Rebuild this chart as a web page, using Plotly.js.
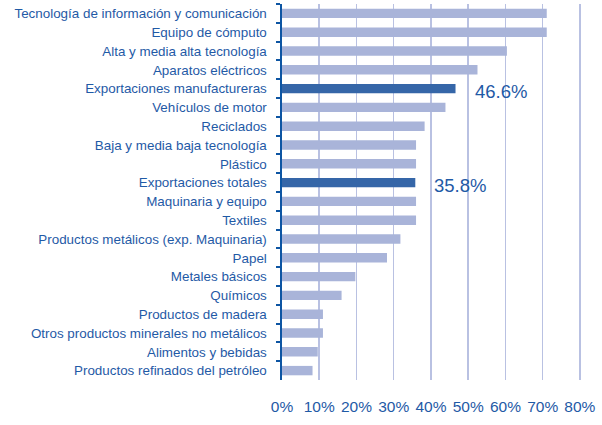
<!DOCTYPE html>
<html>
<head>
<meta charset="utf-8">
<script src="https://cdn.plot.ly/plotly-3.0.1.min.js"></script>
<style>html,body{margin:0;padding:0;background:#fff;}#chart{width:602px;height:425px;}</style>
</head>
<body>
<div id="chart"></div>
<script>
const categories = [
  "Tecnología de información y comunicación",
  "Equipo de cómputo",
  "Alta y media alta tecnología",
  "Aparatos eléctricos",
  "Exportaciones manufactureras",
  "Vehículos de motor",
  "Reciclados",
  "Baja y media baja tecnología",
  "Plástico",
  "Exportaciones totales",
  "Maquinaria y equipo",
  "Textiles",
  "Productos metálicos (exp. Maquinaria)",
  "Papel",
  "Metales básicos",
  "Químicos",
  "Productos de madera",
  "Otros productos minerales no metálicos",
  "Alimentos y bebidas",
  "Productos refinados del petróleo"
];
const values = [71.1, 71.1, 60.4, 52.5, 46.6, 43.9, 38.3, 36.0, 36.0, 35.8, 36.0, 36.0, 31.8, 28.2, 19.7, 16.0, 11.0, 11.0, 9.6, 8.2];
const highlighted = ["Exportaciones manufactureras", "Exportaciones totales"];
const tickValues = [0, 10, 20, 30, 40, 50, 60, 70, 80];
const tickLabels = ["0%", "10%", "20%", "30%", "40%", "50%", "60%", "70%", "80%"];

const lightColor = "#a9b4d9";
const darkColor = "#3566a8";
const textColor = "#1f5aa6";

const trace = {
  type: "bar",
  orientation: "h",
  y: categories,
  x: values,
  width: 0.5,
  marker: { color: categories.map(c => highlighted.includes(c) ? darkColor : lightColor) },
  hoverinfo: "none"
};

const annotations = highlighted.map(c => {
  const v = values[categories.indexOf(c)];
  return {
    x: v, y: c, xref: "x", yref: "y",
    text: v.toFixed(1) + "%",
    showarrow: false, xanchor: "left", xshift: 17, yshift: -3,
    font: { family: "Liberation Sans, Arial, sans-serif", size: 18.5, color: textColor }
  };
});

const layout = {
  width: 602, height: 425,
  margin: { l: 282, r: 21, t: 4, b: 45, pad: 0 },
  paper_bgcolor: "#fff", plot_bgcolor: "#fff",
  showlegend: false,
  font: { family: "Liberation Sans, Arial, sans-serif", color: textColor },
  bargap: 0.5,
  xaxis: {
    range: [0, 80.3],
    tickvals: tickValues, ticktext: tickLabels,
    showgrid: true, gridcolor: "#b9c1e2", gridwidth: 1.5,
    zeroline: false, showline: false, ticks: "",
    ticklabelstandoff: 15,
    tickfont: { size: 15.5, color: textColor }
  },
  yaxis: {
    type: "category",
    autorange: "reversed",
    showline: true, linecolor: "#0d55a3", linewidth: 2.5,
    ticks: "outside", tickson: "boundaries", ticklen: 4, tickwidth: 2, tickcolor: "#0d55a3",
    ticklabelstandoff: 10,
    showgrid: false, zeroline: false,
    tickfont: { size: 13.4, color: textColor }
  },
  annotations: annotations
};

Plotly.newPlot("chart", [trace], layout, { displayModeBar: false, staticPlot: true });
</script>
</body>
</html>
